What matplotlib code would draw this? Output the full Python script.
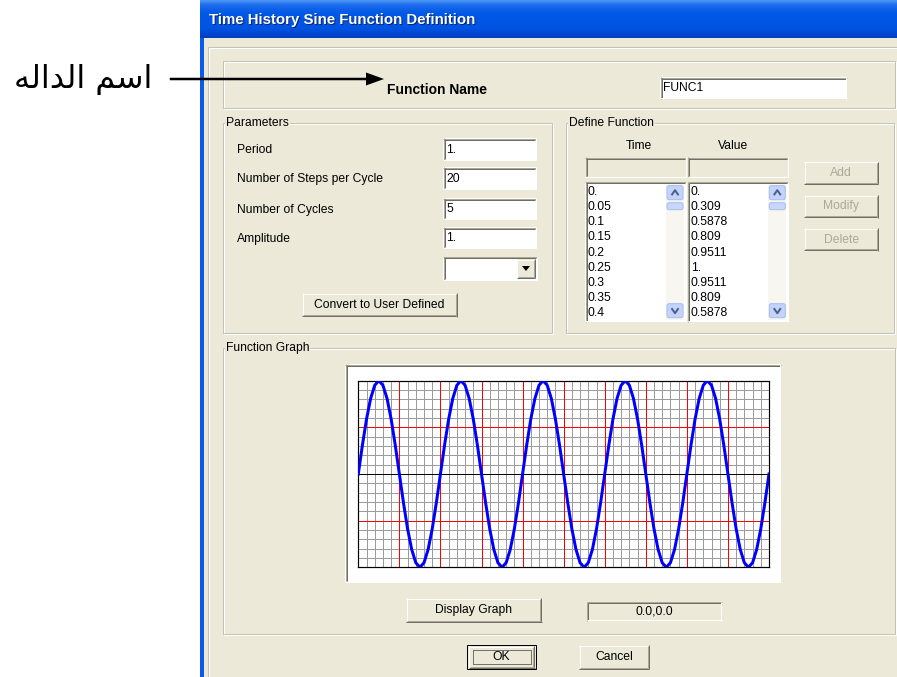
import numpy as np
import matplotlib.pyplot as plt
from matplotlib.patches import Rectangle, Polygon, FancyBboxPatch
from matplotlib.colors import LinearSegmentedColormap

# dialog parameters
period = 1.0
steps_per_cycle = 20
n_cycles = 5
amplitude = 1.0
func_name = "FUNC1"

# one cycle of the sine values, as listed in the Value column
cycle_values = [0., 0.309, 0.5878, 0.809, 0.9511, 1., 0.9511, 0.809, 0.5878, 0.309,
                0., -0.309, -0.5878, -0.809, -0.9511, -1., -0.9511, -0.809, -0.5878, -0.309]
values = [amplitude * v for v in cycle_values * n_cycles] + [0.]
times = [round(i * period / steps_per_cycle, 4) for i in range(len(values))]

param_labels = ["Period", "Number of Steps per Cycle", "Number of Cycles", "Amplitude"]
param_values = ["1.", "20", "5", "1."]
side_buttons = ["Add", "Modify", "Delete"]
n_visible = 9

# graph grid spacing (minor grey / major red)
minor_step = 0.1
major_step = 0.5

# "اسم الداله" in presentation forms, visual order (matplotlib does no shaping)
arabic_label = "\uFEEA\uFEDF\uFE8D\uFEAA\uFEDF\uFE8D \uFEE2\uFEB3\uFE8D"

BG = '#ECE9D8'
UI = ['Liberation Sans', 'DejaVu Sans']
FS = 8.7
PX = 0.72


def fmt(v):
    s = f"{v:g}"
    return s if "." in s else s + "."


fig = plt.figure(figsize=(8.97, 6.77), dpi=100)
ax = fig.add_axes([0, 0, 1, 1])


def line(xs, ys, c, w=1, z=4):
    ax.plot(xs, ys, color=c, lw=w * PX, solid_capstyle='butt', zorder=z)


def label(x, y, s, ha='left', color='black', size=FS, weight='normal', z=6):
    ax.text(x, y, s, ha=ha, va='center', color=color, fontsize=size,
            fontweight=weight, family=UI, zorder=z)


def etched(x0, y0, x1, y1):
    ax.add_patch(Rectangle((x0 + 1, y0 + 1), x1 - x0, y1 - y0, fill=False,
                           ec='white', lw=PX, zorder=2))
    ax.add_patch(Rectangle((x0, y0), x1 - x0, y1 - y0, fill=False,
                           ec='#C5C2B2', lw=PX, zorder=2))


def group_title(x, y, s):
    ax.text(x, y, s, ha='left', va='center', fontsize=FS, family=UI, zorder=6,
            bbox=dict(fc=BG, ec='none', pad=0.5))


def sunken(x0, y0, x1, y1, fc='white'):
    ax.add_patch(Rectangle((x0, y0), x1 - x0, y1 - y0, fc=fc, ec='none', zorder=3))
    line([x0, x1], [y0 + 0.5, y0 + 0.5], '#ACA899')
    line([x0 + 0.5, x0 + 0.5], [y0, y1], '#ACA899')
    line([x0 + 1, x1 - 1], [y0 + 1.5, y0 + 1.5], '#716F64')
    line([x0 + 1.5, x0 + 1.5], [y0 + 1, y1 - 1], '#716F64')
    line([x0, x1], [y1 - 0.5, y1 - 0.5], 'white')
    line([x1 - 0.5, x1 - 0.5], [y0, y1], 'white')


def raised(x0, y0, x1, y1, text='', color='black'):
    ax.add_patch(Rectangle((x0, y0), x1 - x0, y1 - y0, fc=BG, ec='none', zorder=3))
    line([x0, x1], [y0 + 0.5, y0 + 0.5], 'white')
    line([x0 + 0.5, x0 + 0.5], [y0, y1], 'white')
    line([x0, x1], [y1 - 0.5, y1 - 0.5], '#716F64')
    line([x1 - 0.5, x1 - 0.5], [y0, y1], '#716F64')
    line([x0 + 1, x1 - 1], [y1 - 1.5, y1 - 1.5], '#ACA899')
    line([x1 - 1.5, x1 - 1.5], [y0 + 1, y1 - 1], '#ACA899')
    if text:
        label((x0 + x1) / 2, (y0 + y1) / 2, text, ha='center', color=color)


def chevron(cx, cy, up=True):
    d = -2.5 if up else 2.5
    line([cx - 3.5, cx, cx + 3.5], [cy - d, cy + d, cy - d], '#4D6185', w=2, z=7)


def scroll_bar(x0, y0, x1, y1):
    ax.add_patch(Rectangle((x0, y0), x1 - x0, y1 - y0, fc='#F7F6F1', ec='none', zorder=4))
    for (b0, b1) in [(y0 + 2, y0 + 16), (y1 - 16, y1 - 2)]:
        ax.add_patch(FancyBboxPatch((x0 + 1, b0), x1 - x0 - 2, b1 - b0,
                                    boxstyle='round,pad=0,rounding_size=2',
                                    fc='#C3D3FB', ec='#A6BDF2', lw=PX, zorder=5))
    chevron((x0 + x1) / 2, y0 + 9, up=True)
    chevron((x0 + x1) / 2, y1 - 9, up=False)
    ax.add_patch(FancyBboxPatch((x0 + 1, y0 + 19), x1 - x0 - 2, 7,
                                boxstyle='round,pad=0,rounding_size=2',
                                fc='#C8D7FB', ec='#A6BDF2', lw=PX, zorder=5))


def list_box(x0, y0, x1, y1, items):
    sunken(x0, y0, x1, y1)
    scroll_bar(x1 - 20, y0 + 2, x1 - 2, y1 - 2)
    for i, s in enumerate(items):
        label(x0 + 3, 191.7 + i * 15.2, s)


# page and window
ax.add_patch(Rectangle((0, 0), 897, 677, fc='white', ec='none', zorder=0))
ax.add_patch(Rectangle((203, 38), 700, 650, fc=BG, ec='none', zorder=1))
ax.add_patch(Rectangle((200, 0), 3.5, 677, fc='#0A5BE6', ec='none', zorder=2))
cap = LinearSegmentedColormap.from_list('cap', [(0, '#4A93F5'), (0.12, '#1C6CEC'),
                                                (0.35, '#0058E6'), (0.75, '#0054E3'),
                                                (1, '#003FC4')])
ax.imshow(np.linspace(0, 1, 40)[:, None], cmap=cap, extent=(200, 897, 38, 0),
          aspect='auto', zorder=2)
ax.text(210, 21, "Time History Sine Function Definition", color='#0A246A',
        fontsize=10.8, fontweight='bold', family=UI, va='center', zorder=5)
ax.text(209, 20, "Time History Sine Function Definition", color='white',
        fontsize=10.8, fontweight='bold', family=UI, va='center', zorder=6)

# inner panel edge
line([208, 897], [47, 47], '#C5C2B2', z=2)
line([208, 208], [47, 677], '#C5C2B2', z=2)
line([209, 897], [48, 48], 'white', z=2)
line([209, 209], [48, 677], 'white', z=2)

# function name row
etched(222.7, 61, 895, 108)
label(437, 90, "Function Name", ha='center', size=10, weight='bold')
sunken(660, 77, 846.7, 98.5)
label(663, 88, func_name)

# annotation arrow and Arabic label
ax.plot([171, 370], [79, 79], color='black', lw=2.5 * PX, zorder=8)
ax.add_patch(Polygon([(366, 72.5), (384, 79), (366, 85.5)], closed=True,
                     fc='black', ec='none', zorder=8))
ax.text(152, 88, arabic_label, ha='right', va='baseline', fontsize=23,
        family=['DejaVu Sans'], zorder=8)

# parameters group
etched(222.7, 123, 551.7, 333)
group_title(226, 123, "Parameters")
rows_y = [(138.3, 160), (167.3, 189.3), (198.3, 219.3), (227.3, 248.3)]
for name, val, (y0, y1) in zip(param_labels, param_values, rows_y):
    label(236.7, (y0 + y1) / 2 + 1, name)
    sunken(443.3, y0, 536, y1)
    label(446.5, (y0 + y1) / 2 + 0.5, val)
sunken(443.3, 256.7, 537, 280)
raised(516.7, 259, 535, 278)
ax.add_patch(Polygon([(522, 266), (530, 266), (526, 271)], closed=True,
                     fc='black', ec='none', zorder=6))
raised(302, 293.3, 457, 316.5, "Convert to User Defined")

# define function group
etched(566, 123, 893.5, 333)
group_title(569, 123, "Define Function")
label(639, 146, "Time", ha='center')
label(733, 146, "Value", ha='center')
sunken(585, 157.3, 686, 177.3, fc=BG)
sunken(687.7, 157.3, 788.3, 177.3, fc=BG)
list_box(585, 181.7, 686, 321.7, [fmt(t) for t in times[:n_visible]])
list_box(687.7, 181.7, 788.3, 321.7, [fmt(v) for v in values[:n_visible]])
for i, name in enumerate(side_buttons):
    y0 = 161.7 + i * 33.3
    raised(804, y0, 878.3, y0 + 22.5, name, color='#ACA899')

# function graph group
etched(222.7, 348, 895, 633.5)
group_title(226, 348, "Function Graph")
sunken(345, 364, 780.7, 582.3)
raised(406, 598.3, 541.7, 622.3, "Display Graph")
sunken(586.7, 601.7, 721.7, 620.7, fc=BG)
label(654, 611.5, "0.0,0.0", ha='center')

# OK / Cancel
ax.add_patch(Rectangle((467.3, 645), 68.7, 24.3, fc=BG, ec='black', lw=PX, zorder=3))
raised(468.5, 646.2, 534.8, 668.1, "OK")
ax.add_patch(Rectangle((472.5, 650), 58, 14.3, fill=False, ec='black', lw=PX,
                       ls=(0, (1, 1)), zorder=6))
raised(579.3, 645, 649.3, 669.3, "Cancel")

ax.set_xlim(0, 897)
ax.set_ylim(677, 0)
ax.axis('off')

# the sine plot
t_end = n_cycles * period
g = fig.add_axes([358.3 / 897, 1 - 567.3 / 677, 410.7 / 897, 186.6 / 677])
g.set_facecolor('white')


def is_major(v):
    return abs(v / major_step - round(v / major_step)) < 1e-6


grid_x = np.round(np.arange(0, t_end + 1e-9, minor_step), 6)
grid_y = np.round(np.arange(-amplitude, amplitude + 1e-9, minor_step), 6)
crisp = dict(lw=PX, antialiased=False, snap=True)
g.vlines([x for x in grid_x if not is_major(x)], -amplitude, amplitude,
         color='#9C9C9C', zorder=1, **crisp)
g.hlines([y for y in grid_y if not is_major(y)], 0, t_end,
         color='#9C9C9C', zorder=1, **crisp)
g.vlines([x for x in grid_x if is_major(x)], -amplitude, amplitude,
         color='#FF0000', zorder=1.5, **crisp)
g.hlines([y for y in grid_y if is_major(y) and y != 0], 0, t_end,
         color='#FF0000', zorder=1.5, **crisp)
g.hlines([0], 0, t_end, color='black', zorder=2, **crisp)
g.plot(times, values, color='#0000FF', lw=3 * PX, zorder=3)
g.set_xticks([])
g.set_yticks([])
g.set_xlim(0, t_end)
g.set_ylim(-amplitude, amplitude)
for sp in g.spines.values():
    sp.set_color('black')
    sp.set_linewidth(1.2 * PX)

fig.savefig('out.png', dpi=100)
